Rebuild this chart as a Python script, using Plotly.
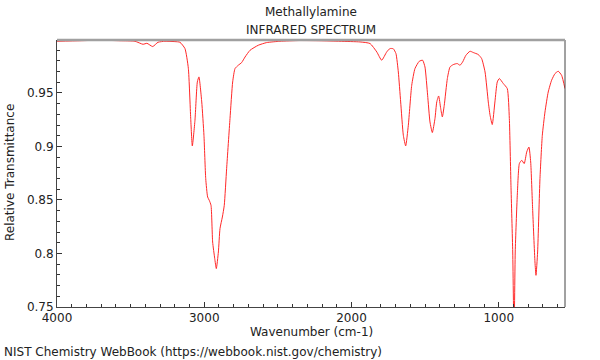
import plotly.graph_objects as go

wavenumber = [4000, 3844, 3708, 3572, 3470, 3416, 3389, 3350, 3314, 3267, 3199, 3165, 3131, 3108, 3092, 3081,
              3063, 3047, 3036, 3017, 3002, 2990, 2977, 2966, 2954, 2943, 2929, 2918, 2904, 2893, 2877, 2864,
              2848, 2825, 2807, 2791, 2769, 2746, 2723, 2689, 2633, 2576, 2486, 2350, 2214, 2078, 1942, 1874,
              1828, 1795, 1761, 1739, 1716, 1698, 1682, 1666, 1648, 1632, 1614, 1591, 1569, 1540, 1517, 1501,
              1483, 1467, 1451, 1433, 1421, 1408, 1394, 1383, 1370, 1349, 1331, 1309, 1282, 1263, 1245, 1223,
              1195, 1173, 1139, 1116, 1093, 1071, 1059, 1044, 1026, 1010, 996, 969, 942, 928, 917, 905,
              896, 888, 874, 860, 844, 827, 810, 795, 783, 770, 754, 747, 736, 720, 704, 686,
              664, 641, 618, 596, 573, 550]
transmittance = [0.9983, 0.9988, 0.9993, 0.9988, 0.9983, 0.9955, 0.9964, 0.9934, 0.9974, 0.9983, 0.9980, 0.9974,
                 0.9915, 0.9731, 0.9264, 0.9005, 0.9245, 0.9603, 0.9650, 0.9416, 0.9105, 0.8700, 0.8528, 0.8497,
                 0.8450, 0.8107, 0.7955, 0.7859, 0.8014, 0.8233, 0.8341, 0.8450, 0.8793, 0.9261, 0.9603, 0.9728,
                 0.9759, 0.9784, 0.9836, 0.9899, 0.9946, 0.9971, 0.9983, 0.9990, 0.9988, 0.9983, 0.9977, 0.9962,
                 0.9883, 0.9806, 0.9883, 0.9915, 0.9913, 0.9868, 0.9696, 0.9416, 0.9105, 0.9005, 0.9198, 0.9572,
                 0.9728, 0.9796, 0.9806, 0.9743, 0.9479, 0.9229, 0.9130, 0.9261, 0.9416, 0.9472, 0.9354, 0.9276,
                 0.9385, 0.9635, 0.9743, 0.9765, 0.9775, 0.9759, 0.9790, 0.9852, 0.9890, 0.9878, 0.9859, 0.9821,
                 0.9696, 0.9416, 0.9292, 0.9205, 0.9416, 0.9603, 0.9635, 0.9588, 0.9541, 0.9261, 0.8637, 0.8014,
                 0.7200, 0.8014, 0.8544, 0.8840, 0.8871, 0.8840, 0.8949, 0.8995, 0.8855, 0.8420, 0.7921, 0.7796,
                 0.8014, 0.8700, 0.9105, 0.9322, 0.9509, 0.9619, 0.9681, 0.9703, 0.9665, 0.9541]

x_ticks = [4000, 3000, 2000, 1000]
y_ticks = [0.75, 0.8, 0.85, 0.9, 0.95]
y_tick_labels = ["0.75", "0.8", "0.85", "0.9", "0.95"]

FONT = "DejaVu Sans"
L, R, T, B = 57, 35, 40, 53
PW, PH = 600 - L - R, 360 - T - B

fig = go.Figure()
fig.add_trace(go.Scatter(x=wavenumber, y=transmittance, mode="lines",
                         line=dict(color="rgb(255,40,40)", width=1, shape="spline", smoothing=0.5),
                         hoverinfo="skip", showlegend=False))

fig.update_layout(
    width=600, height=360,
    margin=dict(l=L, r=R, t=T, b=B, autoexpand=False),
    paper_bgcolor="white", plot_bgcolor="white",
    font=dict(family=FONT, size=12, color="#222"),
)
fig.update_xaxes(
    range=[4000, 550], tickvals=x_ticks, ticktext=[str(v) for v in x_ticks],
    ticks="inside", ticklen=5, tickcolor="#333", showgrid=False, zeroline=False,
    showline=True, linecolor="#444", linewidth=1, mirror=False, automargin=False,
    minor=dict(dtick=100, ticks="inside", ticklen=3, tickcolor="#333", showgrid=False),
    tickfont=dict(family=FONT, size=12),
)
fig.update_yaxes(
    range=[0.75, 0.9995], tickvals=y_ticks, ticktext=y_tick_labels,
    ticks="inside", ticklen=5, tickcolor="#333", showgrid=False, zeroline=False,
    showline=True, linecolor="#444", linewidth=1, mirror=False, automargin=False,
    minor=dict(dtick=0.01, ticks="inside", ticklen=3, tickcolor="#333", showgrid=False),
    tickfont=dict(family=FONT, size=12),
)
# frame: right edge and grey top edge
fig.add_shape(type="line", xref="paper", yref="paper", x0=1, x1=1, y0=0, y1=1,
              line=dict(color="#444", width=1))
fig.add_shape(type="line", xref="paper", yref="paper", x0=0, x1=1, y0=1, y1=1,
              line=dict(color="#a0a0a0", width=2.5))

def px_x(px):
    return (px - L) / PW

def px_y(py):
    return (360 - B - py) / PH

fig.add_annotation(text="Methallylamine", xref="paper", yref="paper", x=px_x(311), y=px_y(12),
                   xanchor="center", yanchor="middle", showarrow=False,
                   font=dict(family=FONT, size=12, color="#222"))
fig.add_annotation(text="INFRARED SPECTRUM", xref="paper", yref="paper", x=px_x(311), y=px_y(30),
                   xanchor="center", yanchor="middle", showarrow=False,
                   font=dict(family=FONT, size=12, color="#222"))
fig.add_annotation(text="Wavenumber (cm-1)", xref="paper", yref="paper", x=px_x(311), y=px_y(332),
                   xanchor="center", yanchor="middle", showarrow=False,
                   font=dict(family=FONT, size=12, color="#222"))
fig.add_annotation(text="Relative Transmittance", xref="paper", yref="paper", x=px_x(10), y=px_y(173),
                   xanchor="center", yanchor="middle", textangle=-90, showarrow=False,
                   font=dict(family=FONT, size=12, color="#222"))
fig.add_annotation(text="NIST Chemistry WebBook (https://webbook.nist.gov/chemistry)",
                   xref="paper", yref="paper", x=px_x(2), y=px_y(352), xanchor="left", yanchor="middle",
                   showarrow=False, font=dict(family=FONT, size=12, color="#222"))

fig.write_html("out.html", config={"displayModeBar": False},
               post_script="document.body.style.margin='0';")
